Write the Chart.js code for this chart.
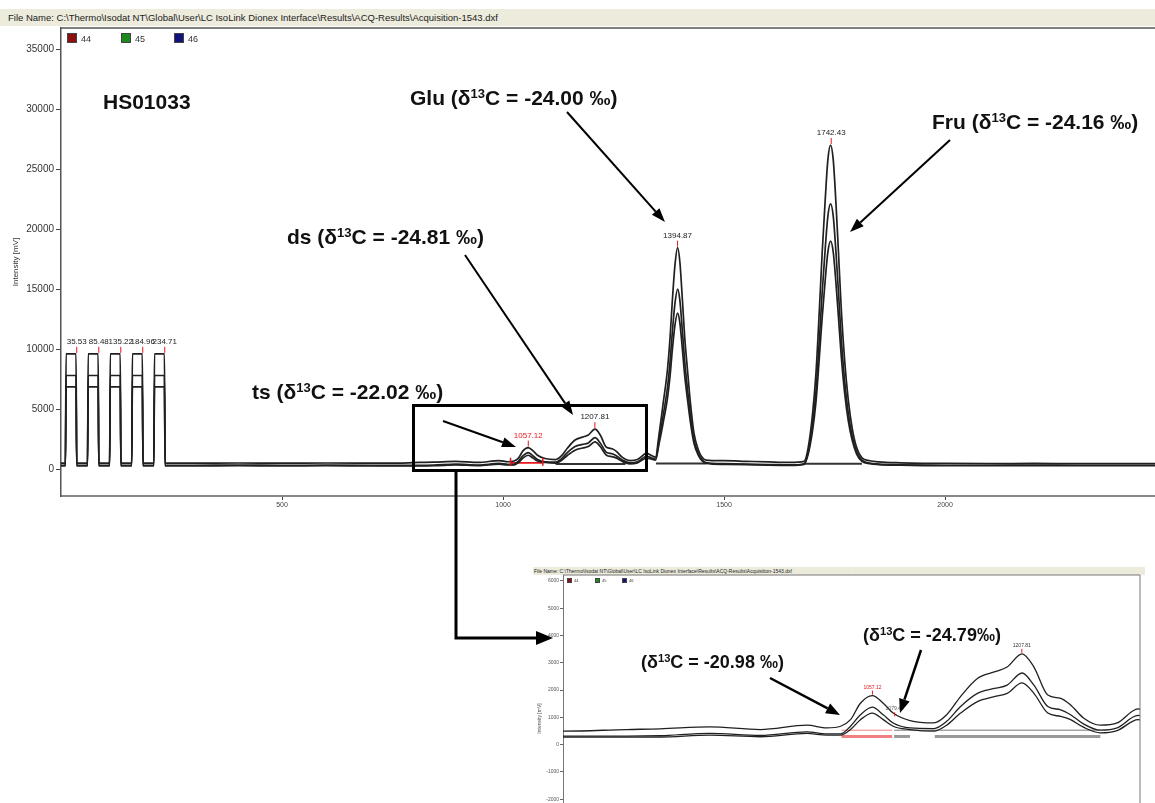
<!DOCTYPE html>
<html>
<head>
<meta charset="utf-8">
<script src="https://cdn.jsdelivr.net/npm/chart.js@4.4.1/dist/chart.umd.min.js"></script>
<style>
  html, body { margin: 0; padding: 0; background: #fff; }
  body { width: 1155px; height: 803px; overflow: hidden; position: relative; font-family: "Liberation Sans", Arial, sans-serif; }
  .hdr { position: absolute; left: 0; top: 9px; width: 1155px; height: 17px; background: #ecebdc; font-size: 9.5px; line-height: 17px; padding-left: 8px; box-sizing: border-box; color: #222; white-space: nowrap; }
  .hdr.small { left: 533px; top: 567px; width: 612px; height: 8px; font-size: 5px; line-height: 8px; padding-left: 1px; }
  #mainBox { position: absolute; left: 0; top: 20px; width: 1155px; height: 500px; }
  #insetBox { position: absolute; left: 530px; top: 566px; width: 625px; height: 300px; }
  .note { position: absolute; font-weight: bold; font-size: 21px; color: #111; white-space: nowrap; line-height: 1; }
  .note.s { font-size: 18px; }
  .note sup { font-size: 0.62em; vertical-align: 0.55em; line-height: 0; }
  .leg { position: absolute; font-size: 9px; color: #333; line-height: 10px; }
  .leg.small { font-size: 4px; line-height: 5px; }
  .sq { position: absolute; border: 1px solid #444; box-sizing: border-box; }
  #marks { position: absolute; left: 0; top: 0; }
</style>
</head>
<body>
<div class="hdr">File Name: C:\Thermo\Isodat NT\Global\User\LC IsoLink Dionex Interface\Results\ACQ-Results\Acquisition-1543.dxf</div>

<div id="mainBox"><canvas id="mainChart" width="1155" height="500"></canvas></div>

<div class="sq" style="left:67px;top:33px;width:10px;height:10px;background:#8b1010"></div>
<div class="leg" style="left:81px;top:34px">44</div>
<div class="sq" style="left:121px;top:33px;width:10px;height:10px;background:#1e8a1e"></div>
<div class="leg" style="left:135px;top:34px">45</div>
<div class="sq" style="left:174px;top:33px;width:10px;height:10px;background:#12127e"></div>
<div class="leg" style="left:188px;top:34px">46</div>

<div class="note" style="left:103px;top:91px">HS01033</div>
<div class="note" style="left:410px;top:87px">Glu (&delta;<sup>13</sup>C = -24.00 &permil;)</div>
<div class="note" style="left:932px;top:111px">Fru (&delta;<sup>13</sup>C = -24.16 &permil;)</div>
<div class="note" style="left:287px;top:226px">ds (&delta;<sup>13</sup>C = -24.81 &permil;)</div>
<div class="note" style="left:252px;top:381px">ts (&delta;<sup>13</sup>C = -22.02 &permil;)</div>

<div class="hdr small">File Name: C:\Thermo\Isodat NT\Global\User\LC IsoLink Dionex Interface\Results\ACQ-Results\Acquisition-1543.dxf</div>
<div id="insetBox"><canvas id="insetChart" width="625" height="300"></canvas></div>

<div class="sq" style="left:567px;top:578px;width:5px;height:5px;background:#8b1010"></div>
<div class="leg small" style="left:574px;top:578px">44</div>
<div class="sq" style="left:595px;top:578px;width:5px;height:5px;background:#1e8a1e"></div>
<div class="leg small" style="left:602px;top:578px">45</div>
<div class="sq" style="left:622px;top:578px;width:5px;height:5px;background:#12127e"></div>
<div class="leg small" style="left:629px;top:578px">46</div>

<div class="note s" style="left:641px;top:653px">(&delta;<sup>13</sup>C = -20.98 &permil;)</div>
<div class="note s" style="left:863px;top:626px">(&delta;<sup>13</sup>C = -24.79&permil;)</div>

<svg id="marks" width="1155" height="803"></svg>

<script>
// retention time (s) shared by the three ion traces
const times = [0, 10, 11.5, 34, 35.5, 60, 61.5, 84, 85.5, 110, 111.5, 134, 135.5, 160, 161.5, 184, 185.5, 210, 211.5, 234, 235.5,
  300, 400, 500, 600, 700, 745,
  809, 843, 893, 944, 991, 1011, 1025, 1035, 1045, 1057, 1068, 1078, 1095, 1119, 1132, 1146, 1163, 1180, 1193, 1208, 1220, 1234, 1247, 1257, 1270, 1287, 1304, 1325,
  1335, 1345,
  1353, 1362, 1372, 1378, 1383, 1389, 1395, 1400, 1406, 1411, 1417, 1424, 1432, 1442, 1450, 1459,
  1500, 1550, 1600, 1650,
  1681, 1690, 1700, 1708, 1716, 1722, 1729, 1735, 1741, 1747, 1753, 1759, 1765, 1773, 1781, 1790, 1800, 1812, 1830, 1850,
  1900, 1950, 2000, 2100, 2200, 2300, 2400, 2475];

// m/z 44
const m44 = [500, 500, 9600, 9600, 500, 500, 9600, 9600, 500, 500, 9600, 9600, 500, 500, 9600, 9600, 500, 500, 9600, 9600, 500,
  500, 510, 500, 510, 500, 494,
  554, 578, 650, 554, 712, 614, 674, 915, 1518, 1796, 1518, 1156, 880, 795, 1096, 1760, 2421, 2663, 2844, 3325, 2844, 1818, 1699, 1457, 976, 712, 795, 1312,
  1150, 1000,
  2900, 5400, 8300, 11000, 14000, 17000, 18450, 17300, 14000, 11000, 8400, 5500, 3000, 1600, 1000, 750,
  700, 650, 600, 560,
  650, 1700, 4500, 8000, 13500, 18000, 22500, 25800, 27000, 25800, 22300, 18000, 13500, 9000, 5800, 3400, 1800, 950, 700, 600,
  520, 480, 470, 460, 470, 460, 460, 460];

// m/z 45
const m45 = [320, 320, 7800, 7800, 320, 320, 7800, 7800, 320, 320, 7800, 7800, 320, 320, 7800, 7800, 320, 320, 7800, 7800, 320,
  320, 330, 320, 325, 320, 313,
  313, 330, 410, 337, 470, 398, 398, 675, 1096, 1373, 1096, 795, 614, 590, 855, 1397, 1879, 2060, 2180, 2626, 2180, 1397, 1277, 1096, 759, 530, 614, 1072,
  950, 820,
  2400, 4400, 6800, 9000, 11400, 13800, 15000, 14100, 11400, 9000, 6800, 4500, 2450, 1300, 800, 550,
  450, 420, 380, 350,
  450, 1350, 3650, 6500, 11000, 14700, 18400, 21100, 22100, 21100, 18200, 14700, 11000, 7300, 4700, 2750, 1450, 750, 500, 420,
  360, 330, 320, 320, 330, 320, 320, 320];

// m/z 46
const m46 = [270, 270, 6850, 6850, 270, 270, 6850, 6850, 270, 270, 6850, 6850, 270, 270, 6850, 6850, 270, 270, 6850, 6850, 270,
  270, 280, 272, 280, 272, 277,
  277, 280, 350, 290, 410, 350, 350, 554, 915, 1156, 915, 675, 554, 494, 712, 1156, 1578, 1760, 1879, 2265, 1879, 1156, 1036, 915, 639, 434, 518, 915,
  850, 750,
  2100, 3800, 5900, 7800, 9900, 12000, 13000, 12200, 9900, 7800, 5900, 3900, 2150, 1150, 700, 480,
  400, 370, 330, 310,
  400, 1200, 3150, 5600, 9500, 12600, 15800, 18100, 19000, 18100, 15600, 12600, 9500, 6300, 4050, 2400, 1250, 650, 450, 380,
  320, 290, 280, 280, 280, 280, 280, 280];

// peak apex labels in the full view
const peakNames = ["35.53", "85.48", "135.22", "184.96", "234.71", "1057.12", "1207.81", "1394.87", "1742.43"];
const peakTimes = [35.53, 85.48, 135.22, 184.96, 234.71, 1057.12, 1207.81, 1394.87, 1742.43];
const peakHeights = [9600, 9600, 9600, 9600, 9600, 1796, 3325, 18450, 27000];

// peak labels in the zoomed view
const zoomPeakNames = ["1057.12", "1079.49", "1207.81"];
const zoomPeakTimes = [1057.12, 1079.49, 1207.81];
const zoomPeakHeights = [1796, 1000, 3325];

// integration baselines, full view (ts, ds, Glu, Fru)
const baseFrom = [1017, 1119, 1346, 1681];
const baseTo = [1090, 1277, 1459, 1812];
const baseLevel = [520, 420, 460, 440];

// integration baselines, zoomed view
const zoomBaseFrom = [1026, 1026, 1079, 1079, 1120];
const zoomBaseTo = [1077, 1077, 1287, 1095, 1287];
const zoomBaseLevel = [530, 300, 530, 300, 300];

// tick values
const mainXTicks = [500, 1000, 1500, 2000];
const mainYTicks = [0, 5000, 10000, 15000, 20000, 25000, 30000, 35000];
const zoomYTicks = [-4000, -3000, -2000, -1000, 0, 1000, 2000, 3000, 4000, 5000, 6000];

const FONT = "'Liberation Sans', Arial, sans-serif";

function traceSets(width) {
  return [m44, m45, m46].map((vals) => ({
    data: times.map((t, i) => ({ x: t, y: vals[i] })),
    borderColor: "#202020",
    borderWidth: width,
    pointRadius: 0,
    cubicInterpolationMode: "monotone",
  }));
}

function baseSets(from, to, level, colors, widths) {
  return from.map((f, i) => ({
    data: [{ x: f, y: level[i] }, { x: to[i], y: level[i] }],
    borderColor: colors[i],
    borderWidth: widths[i],
    pointRadius: 0,
  }));
}

const fixTicks = (list) => (scale) => {
  scale.ticks = list.map((v) => ({ value: v }));
};

const frame = {
  id: "frame",
  afterDraw(chart, args, opts) {
    const { ctx, chartArea: a } = chart;
    ctx.save();
    ctx.strokeStyle = opts.color || "#555";
    ctx.lineWidth = opts.width || 1;
    ctx.beginPath();
    ctx.moveTo(a.left, a.top);
    ctx.lineTo(a.right, a.top);
    if (opts.right) {
      ctx.moveTo(a.right, a.top);
      ctx.lineTo(a.right, a.bottom);
    }
    ctx.stroke();
    ctx.restore();
  },
};

// red end marks on the ts integration bracket
const bracketEnds = {
  id: "bracketEnds",
  afterDatasetsDraw(chart, args, opts) {
    if (!opts.on) return;
    const { ctx } = chart;
    const x = chart.scales.x, y = chart.scales.y;
    const py = y.getPixelForValue(baseLevel[0]);
    ctx.save();
    ctx.strokeStyle = "#e8161b";
    ctx.lineWidth = 1.5;
    ctx.beginPath();
    [baseFrom[0], baseTo[0]].forEach((t) => {
      const px = x.getPixelForValue(t);
      ctx.moveTo(px, py - 5);
      ctx.lineTo(px, py + 3);
    });
    ctx.stroke();
    ctx.restore();
  },
};

const apexLabels = {
  id: "apexLabels",
  afterDatasetsDraw(chart, args, opts) {
    const { ctx } = chart;
    const x = chart.scales.x, y = chart.scales.y;
    ctx.save();
    ctx.font = opts.font;
    ctx.textAlign = "center";
    ctx.textBaseline = "bottom";
    opts.names.forEach((name, i) => {
      const px = x.getPixelForValue(opts.times[i]);
      const py = y.getPixelForValue(opts.heights[i]);
      ctx.strokeStyle = "#e8161b";
      ctx.lineWidth = 1;
      ctx.beginPath();
      ctx.moveTo(px, py - 1);
      ctx.lineTo(px, py - opts.tick);
      ctx.stroke();
      ctx.fillStyle = opts.colors[i];
      ctx.fillText(name, px, py - opts.tick - 1);
    });
    ctx.restore();
  },
};

// full chromatogram
new Chart(document.getElementById("mainChart"), {
  type: "line",
  data: {
    datasets: traceSets(1.7).concat(
      baseSets(baseFrom, baseTo, baseLevel, ["#e8161b", "#333", "#333", "#333"], [1.6, 2, 2, 2])
    ),
  },
  options: {
    responsive: false,
    animation: false,
    layout: { padding: { top: 7, left: 0, right: 0, bottom: 0 } },
    plugins: {
      legend: { display: false },
      tooltip: { enabled: false },
      frame: { color: "#555", width: 1.5 },
      bracketEnds: { on: true },
      apexLabels: {
        names: peakNames,
        times: peakTimes,
        heights: peakHeights,
        colors: ["#222", "#222", "#222", "#222", "#222", "#e8161b", "#222", "#222", "#222"],
        tick: 7,
        font: "8px " + FONT,
      },
    },
    scales: {
      x: {
        type: "linear",
        min: 0,
        max: 2475,
        afterBuildTicks: fixTicks(mainXTicks),
        ticks: {
          color: "#444",
          font: { size: 7, family: FONT },
          padding: 1,
          callback: (v) => String(v),
        },
        grid: { drawOnChartArea: false, tickLength: 4, color: "#444" },
        border: { color: "#888", width: 2 },
        afterFit: (s) => { s.height = 24; },
      },
      y: {
        min: -2240,
        max: 36750,
        afterBuildTicks: fixTicks(mainYTicks),
        ticks: {
          color: "#333",
          font: { size: 10, family: FONT },
          padding: 2,
          callback: (v) => String(v),
        },
        grid: { drawOnChartArea: false, tickLength: 5, color: "#444" },
        border: { color: "#555", width: 1.5 },
        title: {
          display: true,
          text: "Intensity [mV]",
          color: "#333",
          font: { size: 8, family: FONT },
          padding: { top: 11, bottom: 0 },
        },
        afterFit: (s) => { s.width = 61; },
      },
    },
  },
  plugins: [frame, bracketEnds, apexLabels],
});

// zoom on the ts / ds region
new Chart(document.getElementById("insetChart"), {
  type: "line",
  data: {
    datasets: traceSets(1.3).concat(
      baseSets(zoomBaseFrom, zoomBaseTo, zoomBaseLevel,
        ["#f08080", "#f08080", "#777", "#999", "#999"], [1, 3, 1, 3, 3])
    ),
  },
  options: {
    responsive: false,
    animation: false,
    layout: { padding: { top: 9, left: 0, right: 15, bottom: 0 } },
    plugins: {
      legend: { display: false },
      tooltip: { enabled: false },
      frame: { color: "#777", width: 1, right: true },
      bracketEnds: { on: false },
      apexLabels: {
        names: zoomPeakNames,
        times: zoomPeakTimes,
        heights: zoomPeakHeights,
        colors: ["#e8161b", "#555", "#333"],
        tick: 5,
        font: "5px " + FONT,
      },
    },
    scales: {
      x: { type: "linear", min: 745, max: 1327, display: false },
      y: {
        min: -4300,
        max: 6216,
        afterBuildTicks: fixTicks(zoomYTicks),
        ticks: {
          color: "#555",
          font: { size: 5, family: FONT },
          padding: 1,
          callback: (v) => String(v),
        },
        grid: { drawOnChartArea: false, tickLength: 3, color: "#666" },
        border: { color: "#777", width: 1 },
        title: {
          display: true,
          text: "Intensity [mV]",
          color: "#555",
          font: { size: 5, family: FONT },
          padding: { top: 7, bottom: 0 },
        },
        afterFit: (s) => { s.width = 33; },
      },
    },
  },
  plugins: [frame, bracketEnds, apexLabels],
});

// arrows, box and connector
const svg = document.getElementById("marks");
const NS = "http://www.w3.org/2000/svg";

function el(name, attrs) {
  const e = document.createElementNS(NS, name);
  for (const k in attrs) e.setAttribute(k, attrs[k]);
  svg.appendChild(e);
  return e;
}

function arrow(x1, y1, x2, y2, w, hl, hw) {
  const dx = x2 - x1, dy = y2 - y1;
  const len = Math.hypot(dx, dy);
  const ux = dx / len, uy = dy / len;
  const bx = x2 - ux * hl, by = y2 - uy * hl;
  el("line", { x1, y1, x2: bx, y2: by, stroke: "#000", "stroke-width": w });
  const px = -uy * hw / 2, py = ux * hw / 2;
  el("polygon", {
    points: `${x2},${y2} ${bx + px},${by + py} ${bx - px},${by - py}`,
    fill: "#000",
  });
}

arrow(567, 112, 665, 222, 2, 14, 10);
arrow(950, 140, 850, 232, 2, 14, 10);
arrow(465, 255, 573, 415, 2, 14, 10);
arrow(443, 421, 516, 447, 2, 14, 10);
arrow(770, 678, 840, 715, 2.5, 14, 11);
arrow(921, 650, 900, 713, 2.5, 14, 11);

el("rect", { x: 413.5, y: 405.5, width: 233, height: 65, fill: "none", stroke: "#000", "stroke-width": 3 });
el("polyline", { points: "456,471 456,638 538,638", fill: "none", stroke: "#000", "stroke-width": 3 });
el("polygon", { points: "553,638 536,631 536,645", fill: "#000" });
</script>
</body>
</html>
